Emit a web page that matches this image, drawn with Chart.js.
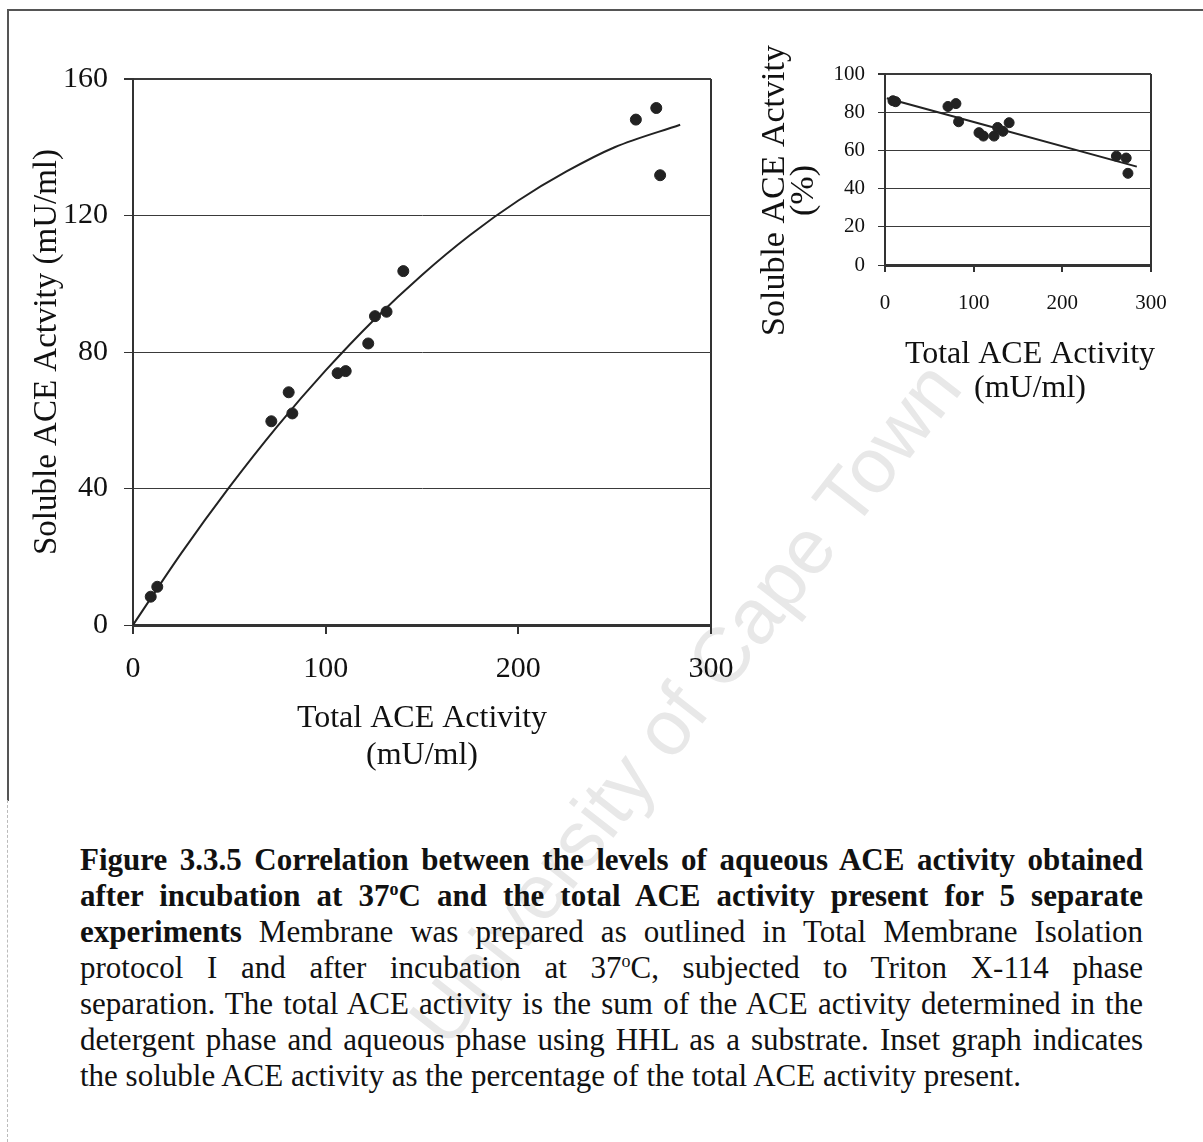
<!DOCTYPE html>
<html>
<head>
<meta charset="utf-8">
<script src="https://cdn.jsdelivr.net/npm/chart.js@4.4.1/dist/chart.umd.min.js"></script>
<style>
  body { margin: 0; background: #fff; width: 1203px; height: 1142px; position: relative; overflow: hidden; }
  .frame { position: absolute; left: 7px; top: 9px; width: 1200px; height: 790px;
           border-top: 2px solid #555; border-left: 2px solid #555; }
  .frame-low { position: absolute; left: 7px; top: 800px; height: 342px; border-left: 1px dashed #bbb; }
  .wm { position: absolute; left: 685px; top: 703px; transform: translate(-50%, -50%) rotate(-52deg);
        font: 78px "Liberation Sans", Arial, sans-serif; color: #e8e8e8; white-space: nowrap; }
  canvas { position: absolute; }
  #main { left: 0; top: 0; }
  #inset { left: 740px; top: 30px; }
  .caption { position: absolute; left: 80px; top: 842px; width: 1063px;
             font: 31px "Liberation Serif", "Times New Roman", serif; line-height: 36px; color: #111; }
  .caption .ln { display: block; white-space: nowrap; text-align: justify; text-align-last: justify; }
  .caption .ln.end { text-align-last: left; }
  .caption sup { font-size: 18px; line-height: 0; }
</style>
</head>
<body>
<div class="frame"></div>
<div class="frame-low"></div>
<div class="wm">University of Cape Town</div>
<canvas id="main" width="760" height="790"></canvas>
<canvas id="inset" width="450" height="400"></canvas>
<div class="caption">
  <span class="ln"><b>Figure 3.3.5 Correlation between the levels of aqueous ACE activity obtained</b></span>
  <span class="ln"><b>after incubation at 37<sup>o</sup>C and the total ACE activity present for 5 separate</b></span>
  <span class="ln"><b>experiments</b> Membrane was prepared as outlined in Total Membrane Isolation</span>
  <span class="ln">protocol I and after incubation at 37<sup>o</sup>C, subjected to Triton X-114 phase</span>
  <span class="ln">separation. The total ACE activity is the sum of the ACE activity determined in the</span>
  <span class="ln">detergent phase and aqueous phase using HHL as a substrate. Inset graph indicates</span>
  <span class="ln end">the soluble ACE activity as the percentage of the total ACE activity present.</span>
</div>

<script>
// total vs soluble activity (mU/ml)
const totalAct   = [9.2, 12.6, 71.8, 80.8, 82.7, 106.2, 110.4, 122.1, 125.6, 131.6, 140.3, 261.0, 271.6, 273.6];
const solubleAct = [8.3, 11.2, 59.7, 68.2, 62.0, 73.8, 74.4, 82.5, 90.5, 91.8, 103.7, 148.1, 151.5, 131.8];

// trend curve through the main plot
const fitX = [0, 25, 50, 75, 100, 125, 150, 175, 200, 225, 250, 284];
const fitY = [0, 21.0, 40.4, 58.3, 74.6, 89.4, 102.6, 114.3, 124.4, 132.9, 140.0, 146.6];

// inset: soluble activity as % of total
const insetX   = [9, 12, 71, 80, 83, 106, 111, 123, 127, 133, 140, 261, 272, 274];
const insetPct = [86, 85.5, 83, 84.5, 75, 69.3, 67.5, 67.5, 72, 70, 74.5, 57, 56, 48];
const insetFitX = [2, 284];
const insetFitY = [87.3, 51.5];

const mainYTicks = [0, 40, 80, 120, 160];
const xTicks = [0, 100, 200, 300];
const insetYTicks = [0, 20, 40, 60, 80, 100];

const serif = '"Liberation Serif", "Times New Roman", serif';
const ink = '#222';

function pts(xs, ys) {
    return xs.map((x, i) => ({ x: x, y: ys[i] }));
}

function fixedTicks(list) {
    return function (scale) {
        scale.ticks = list.map(v => ({ value: v }));
    };
}

// inset axis titles sit a little off-centre, so they are drawn by hand
const insetTitles = {
    id: 'insetTitles',
    afterDraw(chart) {
        const ctx = chart.ctx, a = chart.chartArea;
        const cx = (a.left + a.right) / 2, cy = (a.top + a.bottom) / 2;
        ctx.save();
        ctx.fillStyle = '#111';
        ctx.textAlign = 'center';
        ctx.textBaseline = 'middle';
        ctx.font = '32px ' + serif;
        ctx.fillText('Total ACE Activity', cx + 12, a.bottom + 90);
        ctx.fillText('(mU/ml)', cx + 12, a.bottom + 124);
        ctx.translate(a.left - 110, cy + 21);
        ctx.rotate(-Math.PI / 2);
        ctx.font = '34px ' + serif;
        ctx.fillText('Soluble ACE Actvity', 0, 0);
        ctx.fillText('(%)', 0, 29);
        ctx.restore();
    }
};

function makeChart(id, o) {
    return new Chart(document.getElementById(id), {
        type: 'scatter',
        data: {
            datasets: [{
                data: pts(o.px, o.py),
                backgroundColor: ink,
                borderColor: ink,
                pointRadius: o.r,
                pointHoverRadius: o.r
            }, {
                data: pts(o.fx, o.fy),
                showLine: true,
                borderColor: ink,
                borderWidth: 2,
                pointRadius: 0,
                cubicInterpolationMode: 'monotone'
            }]
        },
        plugins: o.plugins || [],
        options: {
            responsive: false,
            animation: false,
            events: [],
            layout: { padding: o.pad },
            plugins: { legend: { display: false }, tooltip: { enabled: false } },
            scales: {
                x: {
                    type: 'linear', min: 0, max: 300,
                    afterBuildTicks: fixedTicks(xTicks),
                    afterFit: s => { s.height = o.xh; },
                    border: { color: '#333', width: 3 },
                    grid: {
                        color: c => c.tick && c.tick.value === 300 ? '#333' : 'rgba(0,0,0,0)',
                        lineWidth: 2,
                        tickColor: '#333',
                        tickLength: o.tl
                    },
                    ticks: { color: '#111', font: { family: serif, size: o.tick }, padding: o.xpad, maxRotation: 0 },
                    title: {
                        display: !!o.xtitle, text: o.xtitle, color: '#111',
                        font: { family: serif, size: 32, lineHeight: 1.15 },
                        padding: { top: 0, bottom: o.xtpad }
                    }
                },
                y: {
                    type: 'linear', min: 0, max: o.ymax,
                    afterBuildTicks: fixedTicks(o.yticks),
                    afterFit: s => { s.width = o.yw; },
                    border: { color: '#333', width: 2 },
                    grid: {
                        color: '#3a3a3a',
                        lineWidth: c => c.tick && c.tick.value === o.ymax ? 2 : 1,
                        tickColor: '#333',
                        tickLength: o.tl
                    },
                    ticks: { color: '#111', font: { family: serif, size: o.tick }, padding: o.ypad },
                    title: {
                        display: !!o.ytitle, text: o.ytitle, color: '#111',
                        font: { family: serif, size: 33, lineHeight: 1.15 },
                        padding: { top: o.ytpad, bottom: 0 }
                    }
                }
            }
        }
    });
}

makeChart('main', {
    px: totalAct, py: solubleAct, fx: fitX, fy: fitY, r: 5.5,
    ymax: 160, yticks: mainYTicks,
    pad: { left: 0, top: 79, right: 49, bottom: 0 },
    xh: 165, yw: 133, tl: 9, tick: 30, xpad: 17, ypad: 16, xtpad: 16,
    xtitle: ['Total ACE Activity', '(mU/ml)'],
    ytitle: 'Soluble ACE Actvity (mU/ml)', ytpad: 28
});

makeChart('inset', {
    px: insetX, py: insetPct, fx: insetFitX, fy: insetFitY, r: 5,
    ymax: 100, yticks: insetYTicks,
    pad: { left: 0, top: 44, right: 39, bottom: 0 },
    xh: 165, yw: 145, tl: 7, tick: 21, xpad: 19, ypad: 13,
    plugins: [insetTitles]
});
</script>
</body>
</html>
